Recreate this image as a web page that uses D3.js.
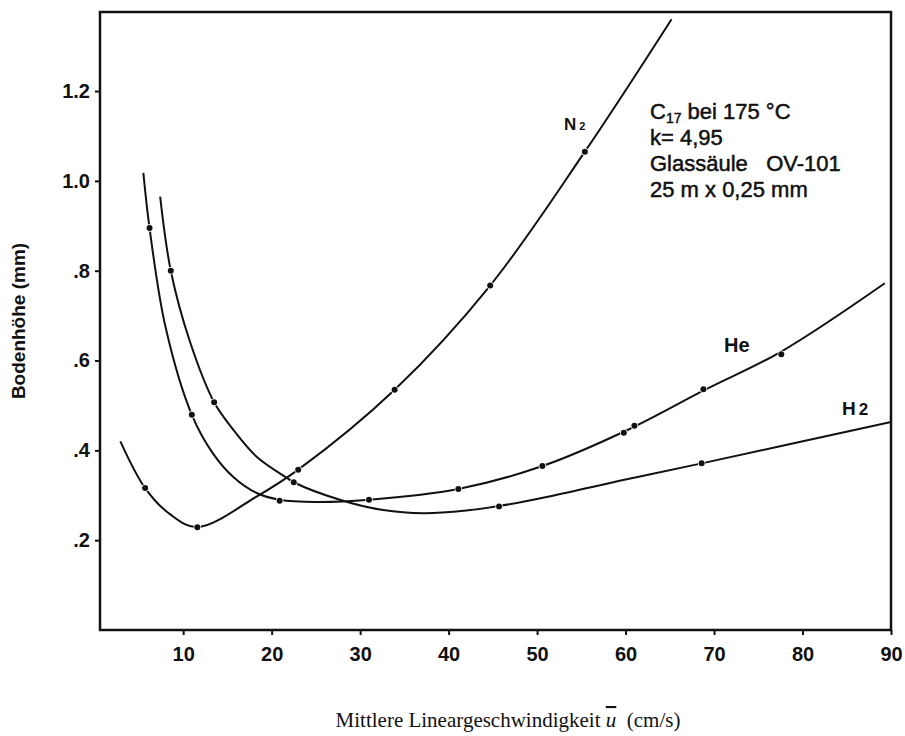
<!DOCTYPE html>
<html>
<head>
<meta charset="utf-8">
<script src="https://cdn.jsdelivr.net/npm/d3@7"></script>
<style>
  html, body { margin: 0; padding: 0; background: #fff; }
  svg { display: block; }
  .tick text { font-family: "Liberation Sans", Arial, sans-serif; font-weight: bold; font-size: 20px; fill: #111; }
</style>
</head>
<body>
<svg id="chart" width="905" height="736"></svg>
<script>
// ---- data ----
const xTicks = [10, 20, 30, 40, 50, 60, 70, 80, 90];
const yTicks = [0.2, 0.4, 0.6, 0.8, 1.0, 1.2];
const yTickLabels = [".2", ".4", ".6", ".8", "1.0", "1.2"];

// measured points (markers)
const n2Points = [[5.7, 0.316], [11.6, 0.229], [23.0, 0.357], [33.9, 0.535], [44.7, 0.767], [55.4, 1.065]];
const hePoints = [[6.2, 0.895], [10.98, 0.479], [20.9, 0.288], [31.0, 0.290], [41.1, 0.314], [50.6, 0.365], [59.8, 0.439], [61.0, 0.455], [68.8, 0.536], [77.6, 0.614]];
const h2Points = [[8.6, 0.800], [13.5, 0.507], [22.5, 0.329], [45.7, 0.275], [68.6, 0.371]];

// fitted curves as traced in the picture
const n2Curve = [[2.9, 0.420], [5.7, 0.316], [8.5, 0.258], [11.6, 0.229], [18.3, 0.297], [23.0, 0.357], [33.9, 0.535], [44.7, 0.767], [55.4, 1.065], [65.2, 1.360]];
const heCurve = [[5.5, 1.018], [6.2, 0.895], [8.0, 0.675], [10.98, 0.479], [13.4, 0.392], [15.7, 0.340], [18.3, 0.305], [20.9, 0.290], [25.0, 0.285], [31.0, 0.290], [41.1, 0.314], [50.6, 0.365], [60.4, 0.447], [69.0, 0.535], [77.6, 0.620], [89.3, 0.772]];
const h2Curve = [[7.4, 0.965], [8.6, 0.800], [10.8, 0.640], [13.5, 0.507], [15.7, 0.445], [18.3, 0.386], [21.7, 0.339], [22.5, 0.329], [27.7, 0.290], [32.6, 0.267], [37.2, 0.260], [42.0, 0.266], [45.7, 0.276], [51.5, 0.298], [60.0, 0.335], [68.6, 0.371], [90.0, 0.463]];

const annotation = ["k= 4,95", "Glassäule   OV-101", "25 m x 0,25 mm"];

// ---- layout ----
const svg = d3.select("#chart");
const mLeft = 100, mRight = 891, mTop = 12, mBottom = 630;
const x = d3.scaleLinear().domain([0.6, 90]).range([mLeft, mRight]);
const y = d3.scaleLinear().domain([0, 1.376]).range([mBottom, mTop]);

// frame
svg.append("rect")
  .attr("x", mLeft).attr("y", mTop)
  .attr("width", mRight - mLeft).attr("height", mBottom - mTop)
  .attr("fill", "none").attr("stroke", "#111").attr("stroke-width", 2.5);

// axes
const xAxis = d3.axisBottom(x).tickValues(xTicks).tickSize(5).tickPadding(12).tickFormat(d3.format("d"));
const gx = svg.append("g").attr("transform", `translate(0,${mBottom})`).call(xAxis);
gx.select(".domain").remove();
gx.selectAll(".tick line").attr("stroke", "#111").attr("stroke-width", 2);

const yAxis = d3.axisLeft(y).tickValues(yTicks).tickSize(5).tickPadding(5)
  .tickFormat((d, i) => yTickLabels[i]);
const gy = svg.append("g").attr("transform", `translate(${mLeft},0)`).call(yAxis);
gy.select(".domain").remove();
gy.selectAll(".tick line").attr("stroke", "#111").attr("stroke-width", 2);

// curves
const line = d3.line().x(d => x(d[0])).y(d => y(d[1])).curve(d3.curveCatmullRom.alpha(0.5));
[n2Curve, heCurve, h2Curve].forEach(c => {
  svg.append("path").datum(c).attr("d", line)
    .attr("fill", "none").attr("stroke", "#111").attr("stroke-width", 2);
});

// markers
[n2Points, hePoints, h2Points].forEach(pts => {
  svg.append("g").selectAll("circle").data(pts).join("circle")
    .attr("cx", d => x(d[0])).attr("cy", d => y(d[1])).attr("r", 3)
    .attr("fill", "#111").attr("stroke", "#fff").attr("stroke-width", 1.5)
    .attr("paint-order", "stroke");
});

// labels
const sans = '"Liberation Sans", Arial, sans-serif';
const n2 = svg.append("text").attr("x", 564).attr("y", 130)
  .attr("font-family", sans).attr("font-weight", "bold").attr("font-size", 17).attr("fill", "#111");
n2.append("tspan").text("N");
n2.append("tspan").attr("dx", 3).attr("font-size", 11).text("2");

svg.append("text").attr("x", 724).attr("y", 352)
  .attr("font-family", sans).attr("font-weight", "bold").attr("font-size", 20).attr("fill", "#111").text("He");

const h2 = svg.append("text").attr("x", 842).attr("y", 415)
  .attr("font-family", sans).attr("font-weight", "bold").attr("font-size", 19).attr("fill", "#111");
h2.append("tspan").text("H");
h2.append("tspan").attr("dx", 3).attr("font-size", 17).text("2");

// annotation block
const ann = svg.append("g").attr("font-family", sans).attr("font-size", 22).attr("fill", "#111")
  .attr("stroke", "#111").attr("stroke-width", 0.5);
const t1 = ann.append("text").attr("x", 650).attr("y", 119);
t1.append("tspan").text("C");
t1.append("tspan").attr("font-size", 14).attr("dy", 4).text("17");
t1.append("tspan").attr("dy", -4).text(" bei 175 °C");
annotation.forEach((s, i) => {
  ann.append("text").attr("x", 650).attr("y", 145 + i * 26).text(s).style("white-space", "pre");
});

// axis titles
svg.append("text")
  .attr("transform", "translate(25,321) rotate(-90)")
  .attr("text-anchor", "middle")
  .attr("font-family", sans).attr("font-weight", "bold").attr("font-size", 19).attr("fill", "#111")
  .text("Bodenhöhe (mm)");

const xt = svg.append("text").attr("x", 508).attr("y", 727).attr("text-anchor", "middle")
  .attr("font-family", '"Liberation Serif", "Times New Roman", serif').attr("font-size", 21).attr("fill", "#111")
  .style("white-space", "pre");
xt.append("tspan").text("Mittlere Lineargeschwindigkeit ");
xt.append("tspan").attr("font-style", "italic").style("text-decoration", "overline").text("u");
xt.append("tspan").text("  (cm/s)");
</script>
</body>
</html>
